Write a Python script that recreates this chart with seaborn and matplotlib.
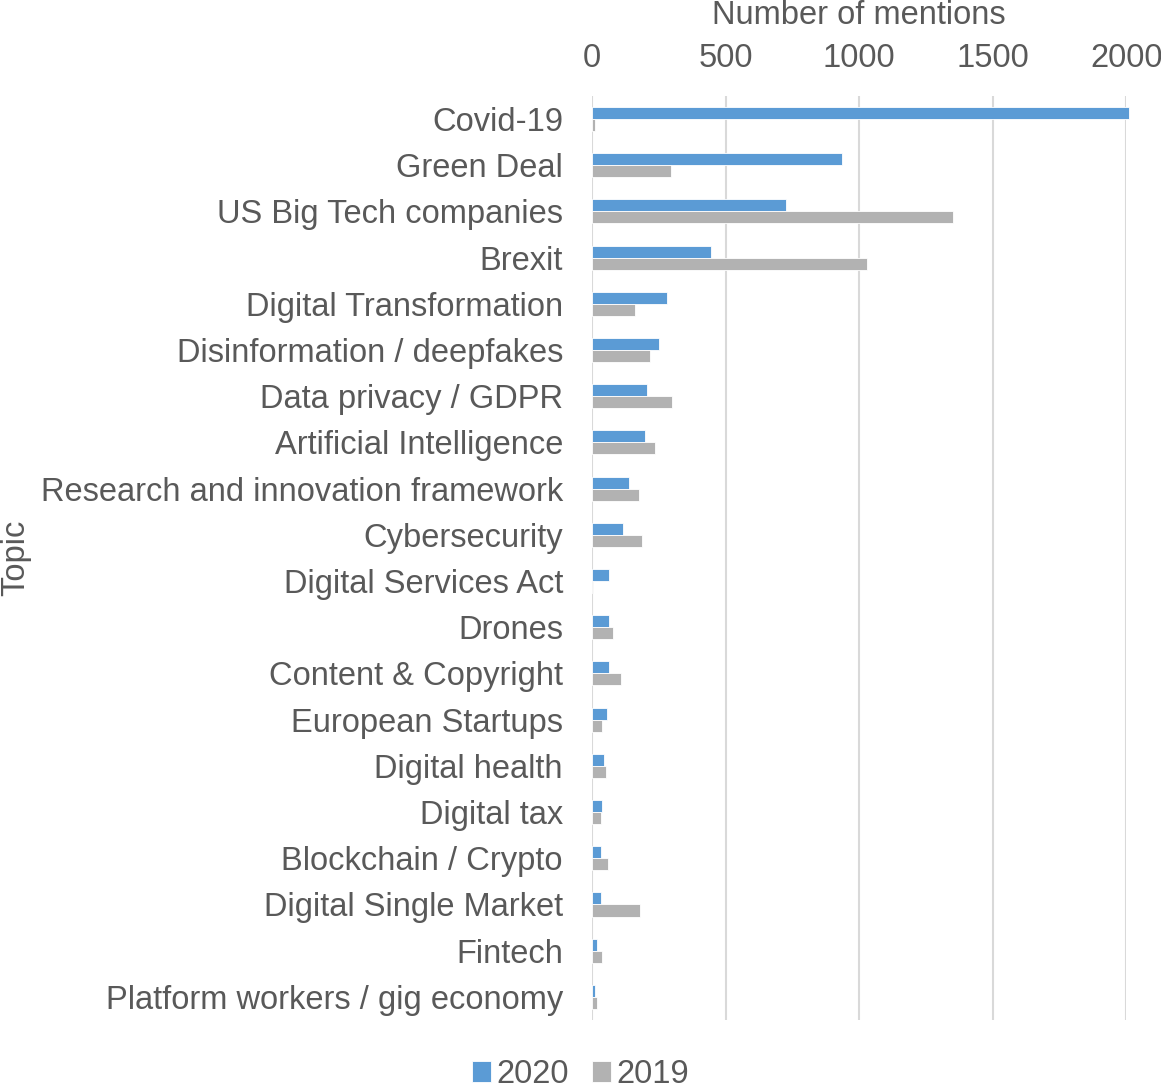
import matplotlib
matplotlib.use("Agg")
import matplotlib.pyplot as plt
import pandas as pd
import seaborn as sns

topics = [
    "Covid-19",
    "Green Deal",
    "US Big Tech companies",
    "Brexit",
    "Digital Transformation",
    "Disinformation / deepfakes",
    "Data privacy / GDPR",
    "Artificial Intelligence",
    "Research and innovation framework",
    "Cybersecurity",
    "Digital Services Act",
    "Drones",
    "Content & Copyright",
    "European Startups",
    "Digital health",
    "Digital tax",
    "Blockchain / Crypto",
    "Digital Single Market",
    "Fintech",
    "Platform workers / gig economy",
]
mentions_2020 = [2010, 937, 726, 446, 279, 250, 204, 198, 139, 116,
                 64, 63, 63, 54, 46, 38, 35, 35, 19, 11]
mentions_2019 = [9, 294, 1350, 1030, 160, 215, 300, 234, 174, 188,
                 5, 78, 108, 38, 51, 32, 59, 180, 38, 19]
years = ["2020", "2019"]
colors = {"2020": "#5B9BD5", "2019": "#B2B2B2"}

df = pd.concat([
    pd.DataFrame({"Topic": topics, "Mentions": mentions_2020, "Year": "2020"}),
    pd.DataFrame({"Topic": topics, "Mentions": mentions_2019, "Year": "2019"}),
])

sns.set_theme(style="white")
plt.rcParams["font.family"] = ["Liberation Sans", "DejaVu Sans"]
text_col = "#595959"
fs = 23.5

fig = plt.figure(figsize=(11.61, 10.88), dpi=100)
ax = fig.add_axes([0.510, 0.0625, 0.460, 0.8493])

sns.barplot(data=df, x="Mentions", y="Topic", hue="Year", hue_order=years,
            palette=colors, orient="h", width=0.52, ax=ax,
            edgecolor="white", linewidth=0.6, saturation=1)
for p in ax.patches:
    p.set_clip_on(False)

ax.set_xlim(0, 2000)
ax.set_xticks([0, 500, 1000, 1500, 2000])
ax.xaxis.tick_top()
ax.xaxis.set_label_position("top")
ax.grid(axis="x", color="#D9D9D9", linewidth=1.5)
ax.set_axisbelow(True)
for s in ax.spines.values():
    s.set_visible(False)
ax.tick_params(axis="both", length=0, labelsize=fs, labelcolor=text_col)
ax.tick_params(axis="y", pad=21)
ax.tick_params(axis="x", pad=15.5)

ax.set_xlabel("Number of mentions", fontsize=fs, color=text_col, labelpad=14)
ax.set_ylabel("Topic", fontsize=fs, color=text_col)
ax.yaxis.set_label_coords(-1.05, 0.5)

handles, labels = ax.get_legend_handles_labels()
ax.legend(handles, labels, loc="center", bbox_to_anchor=(-0.022, -0.059),
          ncol=2, frameon=False, fontsize=fs, labelcolor=text_col,
          handlelength=0.6, handleheight=0.6, handletextpad=0.15,
          columnspacing=0.7, borderaxespad=0)

fig.savefig("out.png", dpi=100)
